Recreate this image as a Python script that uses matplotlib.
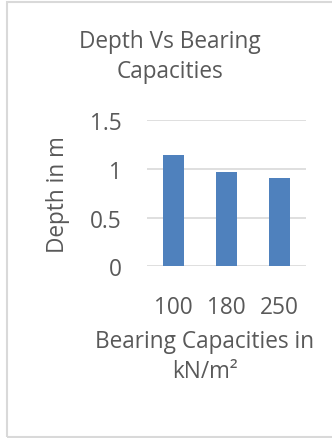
import matplotlib
matplotlib.use("Agg")
import matplotlib.pyplot as plt
from matplotlib.patches import Rectangle

categories = ["100", "180", "250"]
depths = [1.14, 0.97, 0.91]
y_ticks = [0, 0.5, 1, 1.5]
y_tick_labels = ["0", "0.5", "1", "1.5"]

W, H = 332, 439
plt.rcParams["font.family"] = ["Open Sans", "DejaVu Sans"]
text_color = "#595959"
grid_color = "#d9d9d9"
bar_color = "#4f81bd"
fs = 16.3

fig = plt.figure(figsize=(W / 100, H / 100), dpi=100)

def fx(px):
    return px / W

def fy(py):
    return 1 - py / H

# chart area border
fig.patches.append(Rectangle((fx(6.5), fy(438)), fx(340) - fx(6.5), fy(2.5) - fy(438),
                             transform=fig.transFigure, fill=False,
                             edgecolor=grid_color, linewidth=1.5))

ax = fig.add_axes([fx(147), fy(267.3), fx(305.7) - fx(147), fy(121) - fy(267.3)])
x = range(len(categories))
ax.bar(x, depths, width=0.4, color=bar_color, zorder=3)
ax.set_xlim(-0.5, len(categories) - 0.5)
ax.set_ylim(0, 1.5)
ax.set_yticks(y_ticks)
ax.set_yticklabels(y_tick_labels)
ax.set_xticks(list(x))
ax.set_xticklabels(categories)
ax.grid(axis="y", color=grid_color, linewidth=1.2, zorder=0)
for s in ax.spines.values():
    s.set_visible(False)
ax.tick_params(length=0, labelsize=fs, labelcolor=text_color)
ax.tick_params(axis="y", pad=18)
ax.tick_params(axis="x", pad=21)

fig.text(fx(170), fy(42), "Depth Vs Bearing", ha="center", va="center", fontsize=fs, color=text_color)
fig.text(fx(170), fy(72), "Capacities", ha="center", va="center", fontsize=fs, color=text_color)
fig.text(fx(205), fy(342), "Bearing Capacities in", ha="center", va="center", fontsize=fs, color=text_color)
fig.text(fx(205), fy(372), "kN/m²", ha="center", va="center", fontsize=fs, color=text_color)
fig.text(fx(58), fy(195), "Depth in m", ha="center", va="center", rotation=90, fontsize=fs, color=text_color)

fig.savefig("out.png", dpi=100)
